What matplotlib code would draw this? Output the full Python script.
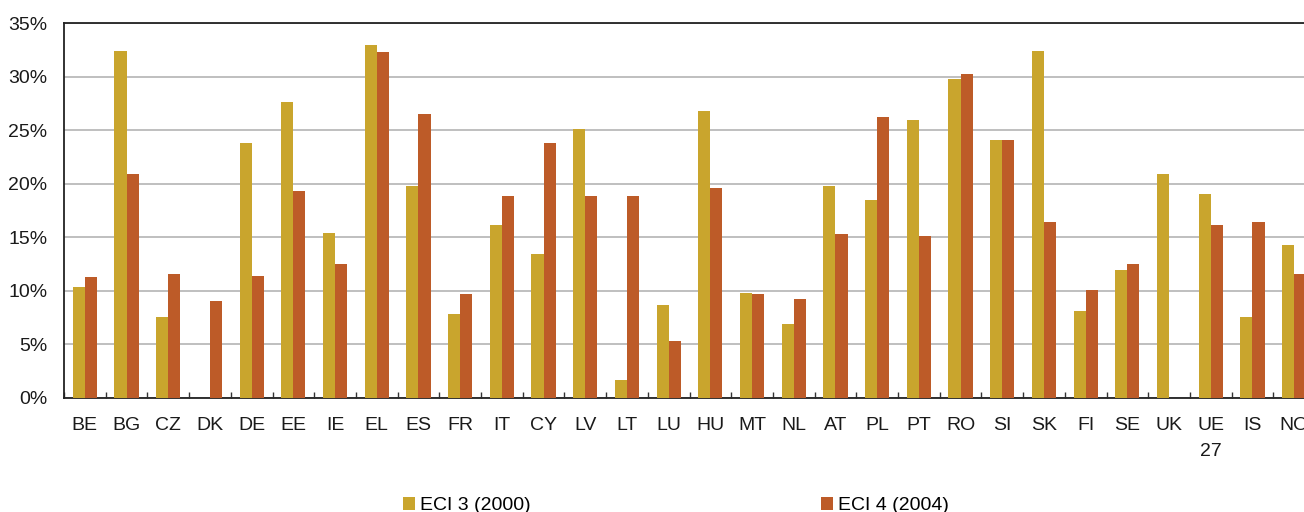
import numpy as np
import matplotlib
matplotlib.use("Agg")
import matplotlib.pyplot as plt
from matplotlib.ticker import FuncFormatter, MultipleLocator

plt.rcParams['font.family'] = ['Liberation Sans', 'DejaVu Sans']

countries = ["BE", "BG", "CZ", "DK", "DE", "EE", "IE", "EL", "ES", "FR", "IT", "CY", "LV", "LT", "LU",
             "HU", "MT", "NL", "AT", "PL", "PT", "RO", "SI", "SK", "FI", "SE", "UK", "UE\n27", "IS", "NO"]
eci3_2000 = [10.3, 32.4, 7.5, 0.0, 23.8, 27.6, 15.4, 32.9, 19.8, 7.8, 16.1, 13.4, 25.1, 1.7, 8.7,
             26.8, 9.8, 6.9, 19.8, 18.5, 25.9, 29.8, 24.1, 32.4, 8.1, 11.9, 20.9, 19.0, 7.5, 14.3]
eci4_2004 = [11.3, 20.9, 11.6, 9.0, 11.4, 19.3, 12.5, 32.3, 26.5, 9.7, 18.8, 23.8, 18.8, 18.8, 5.3,
             19.6, 9.7, 9.2, 15.3, 26.2, 15.1, 30.2, 24.1, 16.4, 10.1, 12.5, 0.0, 16.1, 16.4, 11.6]

gold = "#C9A52D"
rust = "#BD5B28"

W, H = 1304, 512
fig = plt.figure(figsize=(W / 100, H / 100), dpi=100)
# the plot area runs past the right edge of the picture, like the original
ax = fig.add_axes([64 / W, 1 - 397.7 / H, 1251 / W, 374.7 / H])

x = np.arange(len(countries))
bw = 0.29
b1 = ax.bar(x - bw / 2, eci3_2000, bw, color=gold, label="ECI 3 (2000)", zorder=3)
b2 = ax.bar(x + bw / 2, eci4_2004, bw, color=rust, label="ECI 4 (2004)", zorder=3)

ax.set_xlim(-0.5, len(countries) - 0.5)
ax.set_ylim(0, 35)
ax.yaxis.set_major_locator(MultipleLocator(5))
ax.yaxis.set_major_formatter(FuncFormatter(lambda v, p: "%d%%" % v))
ax.grid(axis='y', color="#b4b4b4", linewidth=1.2, zorder=0)

ax.set_xticks(x)
ax.set_xticklabels(countries)
ax.set_xticks(np.arange(len(countries) + 1) - 0.5, minor=True)
ax.tick_params(axis='x', which='major', length=0, pad=14, labelsize=14, colors="#1a1a1a")
ax.tick_params(axis='x', which='minor', direction='in', length=4.5, width=1, color="#333333")
ax.tick_params(axis='y', length=0, pad=12, labelsize=14, colors="#1a1a1a")
for lab in ax.get_xticklabels():
    lab.set_linespacing(1.7)

for s in ["top", "left", "bottom"]:
    ax.spines[s].set_color("#222222")
    ax.spines[s].set_linewidth(1.3)
ax.spines["right"].set_visible(False)

fig.legend(handles=[b1, b2], loc='upper left', bbox_to_anchor=(403 / W, 1 - 497 / H),
           ncol=2, frameon=False, fontsize=14, handlelength=0.64, handleheight=0.64,
           handletextpad=0.26, columnspacing=14.9, borderpad=0, borderaxespad=0)

fig.savefig("out.png", dpi=100)
